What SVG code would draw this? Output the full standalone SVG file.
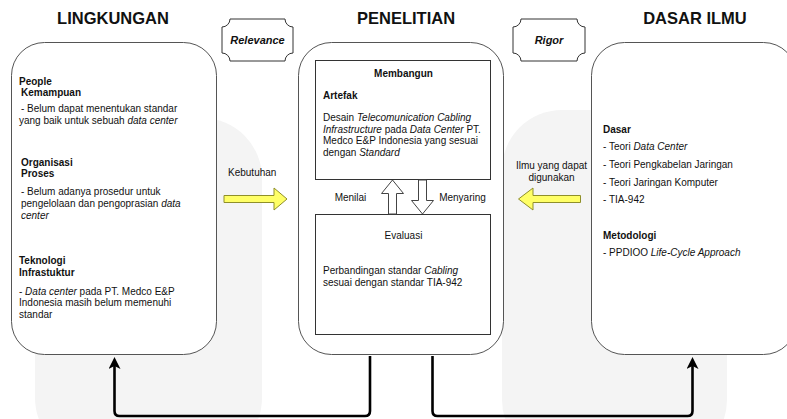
<svg xmlns="http://www.w3.org/2000/svg" width="787" height="419" viewBox="0 0 787 419">
<style>
text{font-family:"Liberation Sans",Arial,sans-serif;fill:#111;font-size:10px}
.t{font-size:16.5px;font-weight:bold;text-anchor:middle}
.b{font-weight:bold}
.c{text-anchor:middle}
.bi{font-weight:bold;font-style:italic;font-size:11px;text-anchor:middle}
.box{fill:#fff;stroke:#555;stroke-width:1}
.inner{fill:#fff;stroke:#333;stroke-width:1}
.plaque{fill:#fff;stroke:#333;stroke-width:1}
.hollow{fill:#fff;stroke:#444;stroke-width:1}
.yel{fill:#ffff66;stroke:#8f8f2a;stroke-width:1}
.conn{fill:none;stroke:#000;stroke-width:2.6}
</style>
<defs>
<marker id="ah" markerUnits="userSpaceOnUse" viewBox="0 0 12 12" markerWidth="12" markerHeight="12" refX="3" refY="6" orient="auto">
<path d="M0,0 L12,6 L0,12 L3,6 Z" fill="#000"/>
</marker>
</defs>
<rect width="787" height="419" fill="#fff"/>
<g id="watermark" fill="#f4f4f4">
<rect x="35" y="118" width="227" height="340" rx="60"/>
<rect x="502" y="110" width="225" height="350" rx="60"/>
</g>

<g id="titles">
<text class="t" x="113" y="24">LINGKUNGAN</text>
<text class="t" x="406" y="24">PENELITIAN</text>
<text class="t" x="695" y="24">DASAR ILMU</text>
</g>

<g id="relevance">
<path class="plaque" d="M230,19 H285 A8,8 0 0 0 293,27 V53 A8,8 0 0 0 285,61 H230 A8,8 0 0 0 222,53 V27 A8,8 0 0 0 230,19 Z"/>
<text class="bi" x="257.5" y="44">Relevance</text>
</g>
<g id="rigor">
<path class="plaque" d="M521,19 H577 A8,8 0 0 0 585,27 V53 A8,8 0 0 0 577,61 H521 A8,8 0 0 0 513,53 V27 A8,8 0 0 0 521,19 Z"/>
<text class="bi" x="549" y="44">Rigor</text>
</g>

<g id="lingkungan">
<rect class="box" x="11.5" y="42.5" width="205" height="312" rx="33"/>
<text class="b" x="19" y="84.5">People</text>
<text class="b" x="21" y="96">Kemampuan</text>
<text x="21" y="112">- Belum dapat menentukan standar</text>
<text x="19" y="124">yang baik untuk sebuah <tspan font-style="italic">data center</tspan></text>
<text class="b" x="21" y="165.5">Organisasi</text>
<text class="b" x="21" y="177">Proses</text>
<text x="21" y="195">- Belum adanya prosedur untuk</text>
<text x="21" y="207">pengelolaan dan pengoprasian <tspan font-style="italic">data</tspan></text>
<text x="21" y="218.5" font-style="italic">center</text>
<text class="b" x="19" y="264">Teknologi</text>
<text class="b" x="19" y="276">Infrastuktur</text>
<text x="19" y="294.5">- <tspan font-style="italic">Data center</tspan> pada PT. Medco E&amp;P</text>
<text x="19" y="306">Indonesia masih belum memenuhi</text>
<text x="19" y="317.5">standar</text>
</g>

<g id="penelitian">
<rect class="box" x="298.5" y="42.5" width="205" height="312" rx="33"/>
</g>
<g id="membangun">
<rect class="inner" x="315.5" y="60.5" width="175" height="119"/>
<text class="b c" x="403.5" y="77">Membangun</text>
<text class="b" x="323" y="98.5">Artefak</text>
<text x="323" y="121"><tspan>Desain </tspan><tspan font-style="italic">Telecomunication Cabling</tspan></text>
<text x="323" y="132.5"><tspan font-style="italic">Infrastructure</tspan> pada <tspan font-style="italic">Data Center</tspan> PT.</text>
<text x="323" y="144">Medco E&amp;P Indonesia yang sesuai</text>
<text x="323" y="156">dengan <tspan font-style="italic">Standard</tspan></text>
</g>
<g id="evaluasi">
<rect class="inner" x="315.5" y="214.5" width="175" height="120"/>
<text class="c" x="403.5" y="238.5">Evaluasi</text>
<text x="323" y="274">Perbandingan standar <tspan font-style="italic">Cabling</tspan></text>
<text x="323" y="286">sesuai dengan standar TIA-942</text>
</g>

<g id="connectors">
<path class="hollow" d="M392.5,180 L403.5,193.5 L396.5,193.5 L396.5,214 L388.5,214 L388.5,193.5 L381.5,193.5 Z"/>
<path class="hollow" d="M422.5,214 L433.5,200.5 L426.5,200.5 L426.5,180 L418.5,180 L418.5,200.5 L411.5,200.5 Z"/>
<text class="c" x="350.5" y="201">Menilai</text>
<text class="c" x="462.5" y="201">Menyaring</text>
<path class="yel" d="M224,195.5 H274 V188 L287,199 L274,210 V202.5 H224 Z"/>
<text x="228" y="175.5">Kebutuhan</text>
<path class="yel" d="M580.5,195.5 H533 V188 L518.5,199 L533,210 V202.5 H580.5 Z"/>
<text class="c" x="551.5" y="168.5">Ilmu yang dapat</text>
<text class="c" x="551.5" y="181">digunakan</text>
<path class="conn" d="M370,356 V411 Q370,416 365,416 H119.5 Q114.5,416 114.5,411 V366" marker-end="url(#ah)"/>
<path class="conn" d="M432.5,356 V411 Q432.5,416 437.5,416 H687.5 Q692.5,416 692.5,411 V366" marker-end="url(#ah)"/>
</g>

<g id="dasar-ilmu">
<rect class="box" x="591.5" y="42.5" width="205" height="312" rx="33"/>
<text class="b" x="603" y="132.5">Dasar</text>
<text x="603" y="150">- Teori <tspan font-style="italic">Data Center</tspan></text>
<text x="603" y="168">- Teori Pengkabelan Jaringan</text>
<text x="603" y="186">- Teori Jaringan Komputer</text>
<text x="603" y="202.5">- TIA-942</text>
<text class="b" x="603" y="239">Metodologi</text>
<text x="603" y="256">- PPDIOO <tspan font-style="italic">Life-Cycle Approach</tspan></text>
</g>
</svg>
